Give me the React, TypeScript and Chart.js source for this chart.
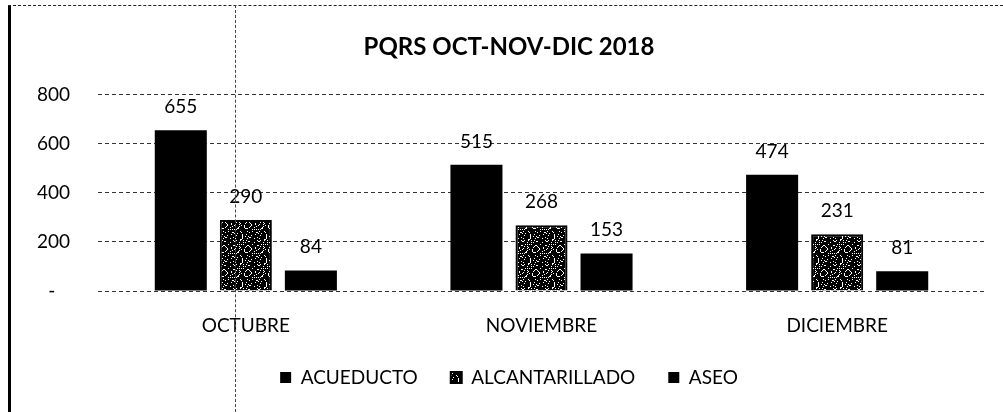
import React, { useEffect, useRef } from "react";
import { Chart, registerables } from "chart.js";

Chart.register(...registerables);

const categories = ["OCTUBRE", "NOVIEMBRE", "DICIEMBRE"];
const acueducto = [655, 515, 474];
const alcantarillado = [290, 268, 231];
const aseo = [84, 153, 81];
const yTicks = [0, 200, 400, 600, 800];
const titleText = "PQRS OCT-NOV-DIC 2018";

const FONT = "Lato, 'Open Sans', sans-serif";

function makeSpeckle(): CanvasPattern | string {
  const c = document.createElement("canvas");
  c.width = 24;
  c.height = 24;
  const g = c.getContext("2d");
  if (!g) return "#000";
  g.fillStyle = "#000";
  g.fillRect(0, 0, 24, 24);
  g.fillStyle = "#fff";
  for (let y = 0; y < 24; y++) {
    for (let x = 0; x < 24; x++) {
      const h = (x * 73 + y * 151 + x * y * 17) % 31;
      if (h < 5) g.fillRect(x, y, 1, 1);
    }
  }
  const p = g.createPattern(c, "repeat");
  return p || "#000";
}

const valueLabels = {
  id: "valueLabels",
  afterDatasetsDraw(chart: any) {
    const ctx = chart.ctx;
    ctx.save();
    ctx.font = `19px ${FONT}`;
    ctx.fillStyle = "#000";
    ctx.textAlign = "center";
    ctx.textBaseline = "alphabetic";
    chart.data.datasets.forEach((ds: any, i: number) => {
      const meta = chart.getDatasetMeta(i);
      meta.data.forEach((el: any, j: number) => {
        ctx.fillText(String(ds.data[j]), el.x, el.y - 17);
      });
    });
    ctx.restore();
  },
};

export default function App() {
  const ref = useRef<HTMLCanvasElement>(null);
  useEffect(() => {
    if (!ref.current) return;
    const speckle = makeSpeckle();
    const chart = new Chart(ref.current, {
      type: "bar",
      data: {
        labels: categories,
        datasets: [
          { label: "ACUEDUCTO", data: acueducto, backgroundColor: "#000", borderColor: "#000", borderWidth: 0 },
          { label: "ALCANTARILLADO", data: alcantarillado, backgroundColor: speckle as any, borderColor: "#000", borderWidth: 2 },
          { label: "ASEO", data: aseo, backgroundColor: "#000", borderColor: "#000", borderWidth: 0 },
        ],
      },
      options: {
        animation: false,
        responsive: false,
        maintainAspectRatio: false,
        datasets: { bar: { categoryPercentage: 0.66, barPercentage: 0.8 } },
        layout: { padding: { left: 33, right: 18, top: 0, bottom: 15 } },
        plugins: {
          title: {
            display: true,
            text: titleText,
            color: "#000",
            font: { family: FONT, size: 24, weight: "bold" },
            padding: { top: 33, bottom: 33 },
          },
          legend: {
            display: true,
            position: "bottom",
            labels: {
              color: "#000",
              font: { family: FONT, size: 19 },
              boxWidth: 11,
              boxHeight: 11,
              padding: 33,
            },
          },
          tooltip: { enabled: false },
        },
        scales: {
          x: {
            afterFit: (scale: any) => {
              scale.height = 44;
            },
            grid: { display: false, drawTicks: false },
            border: { display: false },
            ticks: { color: "#000", font: { family: FONT, size: 19 }, padding: 23 },
          },
          y: {
            min: 0,
            max: 800,
            afterBuildTicks: (scale: any) => {
              scale.ticks = yTicks.map((v) => ({ value: v }));
            },
            afterFit: (scale: any) => {
              scale.width = 65;
            },
            grid: { color: "#333", lineWidth: 1, drawTicks: false },
            border: { display: false, dash: [4, 3] },
            ticks: {
              color: "#000",
              font: { family: FONT, size: 19 },
              padding: 28,
              callback: (v: any) => (v === 0 ? "-   " : String(v)),
            },
          },
        },
      },
      plugins: [valueLabels],
    });
    return () => chart.destroy();
  }, []);

  return (
    <div style={{ position: "fixed", left: 0, top: 0, width: 1003, height: 412, background: "#fff" }}>
      <canvas ref={ref} width={1003} height={412} style={{ position: "absolute", left: 0, top: 0 }} />
      <div style={{ position: "absolute", left: 8, top: 5, width: 3, height: 407, background: "#000" }} />
      <div style={{ position: "absolute", left: 8, top: 5, width: 995, height: 0, borderTop: "1px dashed #222" }} />
      <div style={{ position: "absolute", left: 235, top: 5, width: 0, height: 407, borderLeft: "1px dashed #444" }} />
    </div>
  );
}
